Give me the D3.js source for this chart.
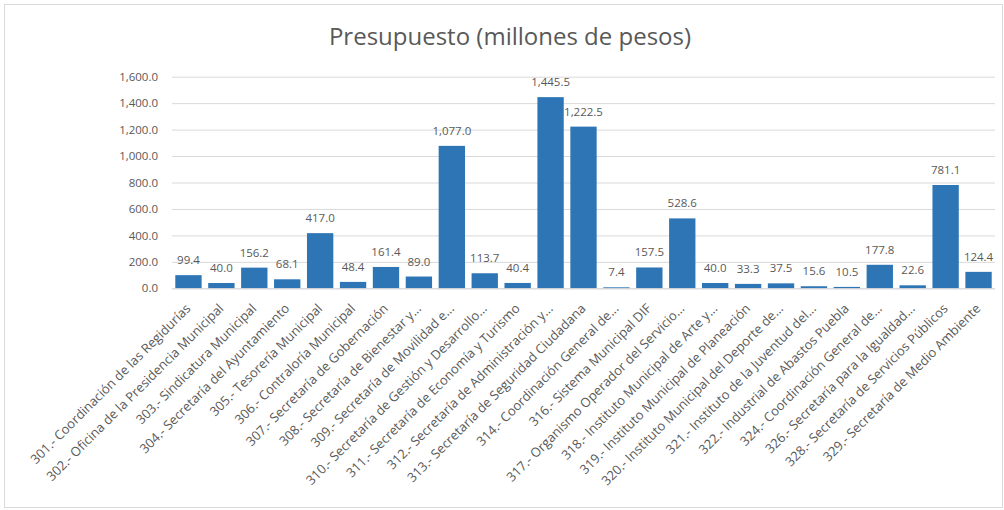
<!DOCTYPE html>
<html><head><meta charset="utf-8">
<script src="https://cdn.jsdelivr.net/npm/d3@7"></script>
<style>body{margin:0;background:#fff;} svg{display:block;}</style>
</head><body>
<svg id="chart" width="1004" height="510"></svg>
<script>
const title = "Presupuesto (millones de pesos)";
const categories = [
  "301.- Coordinación de las Regidurías",
  "302.- Oficina de la Presidencia Municipal",
  "303.- Sindicatura Municipal",
  "304.- Secretaría del Ayuntamiento",
  "305.- Tesorería Municipal",
  "306.- Contraloría Municipal",
  "307.- Secretaría de Gobernación",
  "308.- Secretaría de Bienestar y...",
  "309.- Secretaría de Movilidad e...",
  "310.- Secretaría de Gestión y Desarrollo...",
  "311.- Secretaría de Economía y Turismo",
  "312.- Secretaría de Administración y...",
  "313.- Secretaría de Seguridad Ciudadana",
  "314.- Coordinación General de...",
  "316.- Sistema Municipal DIF",
  "317.- Organismo Operador del Servicio...",
  "318.- Instituto Municipal de Arte y...",
  "319.- Instituto Municipal de Planeación",
  "320.- Instituto Municipal del Deporte de...",
  "321.- Instituto de la Juventud del...",
  "322.- Industrial de Abastos Puebla",
  "324.- Coordinación General de...",
  "326.- Secretaría para la Igualdad...",
  "328.- Secretaría de Servicios Públicos",
  "329.- Secretaría de Medio Ambiente"
];
const values = [99.4, 40.0, 156.2, 68.1, 417.0, 48.4, 161.4, 89.0, 1077.0, 113.7, 40.4, 1445.5, 1222.5, 7.4, 157.5, 528.6, 40.0, 33.3, 37.5, 15.6, 10.5, 177.8, 22.6, 781.1, 124.4];
const yTicks = [0, 200, 400, 600, 800, 1000, 1200, 1400, 1600];

const svg = d3.select("#chart");
const font = "'Open Sans', 'Liberation Sans', sans-serif";
const textColor = "#595959";
const gridColor = "#d9d9d9";
const barColor = "#2e75b6";

svg.append("rect").attr("x", 4.5).attr("y", 4.5).attr("width", 998).attr("height", 503)
  .attr("fill", "#fff").attr("stroke", gridColor).attr("stroke-width", 1);

const plotLeft = 172, plotRight = 995, plotTop = 76.7, plotBottom = 288.3;

const x = d3.scaleBand().domain(categories).range([plotLeft, plotRight]).paddingInner(0.2).paddingOuter(0.1);
const y = d3.scaleLinear().domain([0, 1600]).range([plotBottom, plotTop]);
const fmt = d3.format(",.1f");

svg.append("text").attr("x", 510).attr("y", 45).attr("text-anchor", "middle")
  .attr("font-family", font).attr("font-size", 24).attr("fill", textColor).text(title);

const yAxis = d3.axisLeft(y).tickValues(yTicks).tickFormat(fmt).tickSize(-(plotRight - plotLeft)).tickPadding(14);
const gy = svg.append("g").attr("transform", `translate(${plotLeft},0)`).call(yAxis);
gy.select(".domain").remove();
gy.selectAll(".tick line").attr("stroke", gridColor).attr("stroke-width", 1);
gy.selectAll(".tick text").attr("font-family", font).attr("font-size", 11.5).attr("fill", textColor);

svg.append("g").selectAll("rect").data(values).join("rect")
  .attr("x", (d, i) => x(categories[i]))
  .attr("y", d => y(d))
  .attr("width", x.bandwidth())
  .attr("height", d => plotBottom - y(d))
  .attr("fill", barColor);

const xAxis = d3.axisBottom(x).tickSize(0).tickPadding(0);
const gx = svg.append("g").attr("transform", `translate(0,${plotBottom})`).call(xAxis);
gx.select(".domain").attr("stroke", gridColor).attr("d", `M${plotLeft},0.5H${plotRight}`);
gx.selectAll(".tick text")
  .attr("font-family", font).attr("font-size", 13).attr("fill", textColor)
  .attr("text-anchor", "end")
  .attr("transform", "translate(3,21) rotate(-45)")
  .attr("dy", 0).attr("y", 0).attr("x", 0);

svg.append("g").selectAll("text").data(values).join("text")
  .attr("x", (d, i) => x(categories[i]) + x.bandwidth() / 2)
  .attr("y", d => y(d) - 11)
  .attr("text-anchor", "middle")
  .attr("font-family", font).attr("font-size", 11.5).attr("fill", textColor)
  .text(d => fmt(d));
</script>
</body></html>
